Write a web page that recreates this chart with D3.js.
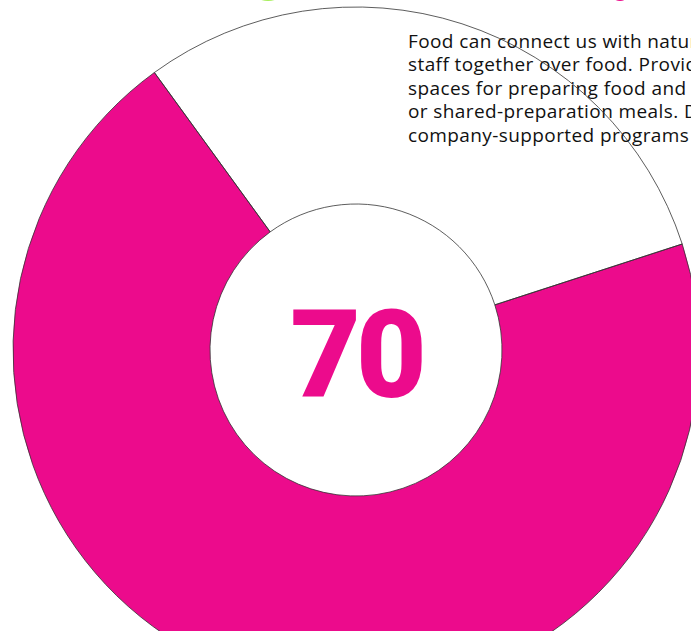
<!DOCTYPE html>
<html><head><meta charset="utf-8">
<script src="https://cdn.jsdelivr.net/npm/d3@7"></script>
<style>html,body{margin:0;padding:0;background:#fff;overflow:hidden}</style>
</head><body>
<svg id="c" width="691" height="631"></svg>
<script>
const categories = ["Yes", "No"];
const values = [70, 30];
const colors = ["#ec0b8c", "#ffffff"];
const centerLabel = "70";
const paragraph = [
  "Food can connect us with nature",
  "staff together over food. Provide",
  "spaces for preparing food and",
  "or shared-preparation meals. D",
  "company-supported programs"
];

const svg = d3.select("#c");
const cx = 356, cy = 350, rOut = 343, rIn = 146;

// neighbouring charts peeking in from above
svg.append("ellipse").attr("cx", 268).attr("cy", -40).attr("rx", 30).attr("ry", 41).attr("fill", "#a6ee5a");
svg.append("ellipse").attr("cx", 620).attr("cy", -40).attr("rx", 20).attr("ry", 41).attr("fill", "#ec0b8c");

// paragraph
const t = svg.append("text").attr("font-family", "Open Sans, sans-serif").attr("font-size", 19)
  .attr("letter-spacing", 0.4).attr("fill", "#111");
paragraph.forEach((l, i) => t.append("tspan").attr("x", 408).attr("y", 48 + i * 23.4).text(l));

const pie = d3.pie().sort(null).value(d => d).startAngle(0.4 * Math.PI).endAngle(2.4 * Math.PI);
const arc = d3.arc().innerRadius(rIn).outerRadius(rOut);
const g = svg.append("g").attr("transform", `translate(${cx},${cy})`);
g.selectAll("path").data(pie(values)).join("path")
  .attr("d", arc)
  .attr("fill", (d, i) => colors[i])
  .attr("fill-opacity", (d, i) => i === 1 ? 0 : 1)
  .attr("stroke", "#333")
  .attr("stroke-width", 0.8);

g.append("text").attr("text-anchor", "middle").attr("y", 47)
  .attr("font-family", "Roboto, sans-serif").attr("font-weight", 900).attr("font-size", 122)
  .attr("letter-spacing", -5)
  .attr("fill", "#ec0b8c").text(centerLabel);
</script>
</body></html>
